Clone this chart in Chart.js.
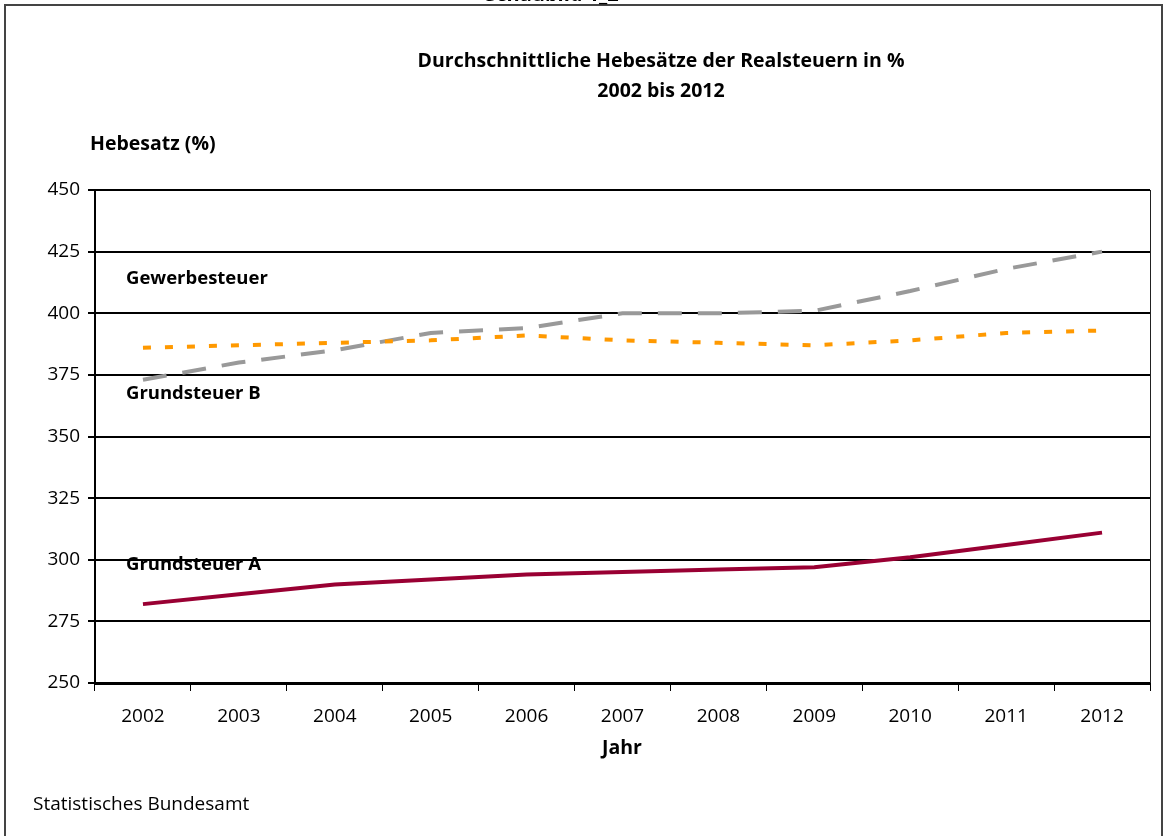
<!DOCTYPE html>
<html>
<head>
<meta charset="utf-8">
<script src="https://cdn.jsdelivr.net/npm/chart.js@4"></script>
<style>
  html, body { margin: 0; padding: 0; background: #fff; }
  #wrap { width: 1165px; height: 836px; position: relative; }
</style>
</head>
<body>
<div id="wrap"><canvas id="chart" width="1165" height="836"></canvas></div>
<script>
// Jahre (x-Achse)
const jahre = ['2002','2003','2004','2005','2006','2007','2008','2009','2010','2011','2012'];
// Hebesaetze in %
const grundsteuerA = [282, 286, 290, 292, 294, 295, 296, 297, 301, 306, 311];
const grundsteuerB = [373, 380, 385, 392, 394, 400, 400, 401, 409, 418, 425];
const gewerbesteuer = [386, 387, 388, 389, 391, 389, 388, 387, 389, 392, 393];
// Beschriftungen im Diagramm: Text und Hoehe (Wert)
const labelTexte = ['Gewerbesteuer', 'Grundsteuer B', 'Grundsteuer A'];
const labelWerte = [414, 367.5, 298];

const FONT = '"Open Sans", "DejaVu Sans", sans-serif';

// zeichnet Rahmen, Titel und Texte ausserhalb der Achsen
const extras = {
  id: 'extras',
  beforeDraw(chart) {
    const c = chart.ctx;
    c.save();
    c.fillStyle = '#fff';
    c.fillRect(0, 0, chart.width, chart.height);
    // Rahmen
    c.strokeStyle = '#444';
    c.lineWidth = 2;
    c.beginPath();
    c.moveTo(5, 836);
    c.lineTo(5, 5);
    c.lineTo(1162, 5);
    c.lineTo(1162, 836);
    c.stroke();
    c.restore();
  },
  afterDraw(chart) {
    const c = chart.ctx;
    const a = chart.chartArea;
    const y = chart.scales.y;
    c.save();
    // rechter Rand
    c.strokeStyle = '#222';
    c.lineWidth = 1;
    c.beginPath();
    c.moveTo(a.right + 0.5, a.top);
    c.lineTo(a.right + 0.5, a.bottom);
    c.stroke();

    c.fillStyle = '#000';
    c.textBaseline = 'middle';
    // abgeschnittene Ueberschrift oben
    c.font = 'bold 20px ' + FONT;
    c.textAlign = 'center';
    c.fillText('Schaubild 1_2', 552, -5);
    // Titel
    c.font = 'bold 19.5px ' + FONT;
    c.fillText('Durchschnittliche Hebesätze der Realsteuern in %', 661, 61);
    c.fillText('2002 bis 2012', 661, 91);
    c.textAlign = 'left';
    c.fillText('Hebesatz (%)', 90, 144);
    c.textAlign = 'center';
    c.fillText('Jahr', 622, 748);
    c.textAlign = 'left';
    c.font = '19px ' + FONT;
    c.fillText('Statistisches Bundesamt', 33, 805);
    // Reihenbeschriftungen
    c.font = 'bold 18.5px ' + FONT;
    labelTexte.forEach((t, i) => {
      c.fillText(t, a.left + 31, y.getPixelForValue(labelWerte[i]));
    });
    c.restore();
  }
};

let ctx = document.getElementById('chart');
let chart = new Chart(ctx, {
  type: 'line',
  data: {
    labels: jahre,
    datasets: [{
      label: 'Gewerbesteuer',
      data: gewerbesteuer,
      borderColor: '#FF9900',
      borderWidth: 4,
      borderDash: [8, 14],
      pointRadius: 0,
      tension: 0,
      fill: false
    }, {
      label: 'Grundsteuer B',
      data: grundsteuerB,
      borderColor: '#999999',
      borderWidth: 4,
      borderDash: [24, 16],
      pointRadius: 0,
      tension: 0,
      fill: false
    }, {
      label: 'Grundsteuer A',
      data: grundsteuerA,
      borderColor: '#990033',
      borderWidth: 4,
      pointRadius: 0,
      tension: 0,
      fill: false
    }]
  },
  options: {
    responsive: false,
    animation: false,
    events: [],
    layout: { padding: { left: 0, top: 190, right: 15, bottom: 73 } },
    plugins: {
      legend: { display: false },
      tooltip: { enabled: false },
      title: { display: false }
    },
    scales: {
      x: {
        offset: true,
        afterFit(s) { s.height = 80; },
        grid: {
          offset: true,
          drawOnChartArea: false,
          drawTicks: true,
          tickLength: 8,
          color: '#000',
          lineWidth: 1
        },
        border: { color: '#000', width: 3 },
        ticks: {
          color: '#000',
          font: { family: FONT, size: 19 },
          padding: 14,
          maxRotation: 0
        }
      },
      y: {
        min: 250,
        max: 450,
        afterFit(s) { s.width = 95; },
        grid: {
          color: '#000',
          lineWidth: 2,
          tickLength: 7
        },
        border: { color: '#000', width: 2 },
        ticks: {
          stepSize: 25,
          color: '#000',
          font: { family: FONT, size: 19 },
          padding: 8
        }
      }
    }
  },
  plugins: [extras]
});
</script>
</body>
</html>
